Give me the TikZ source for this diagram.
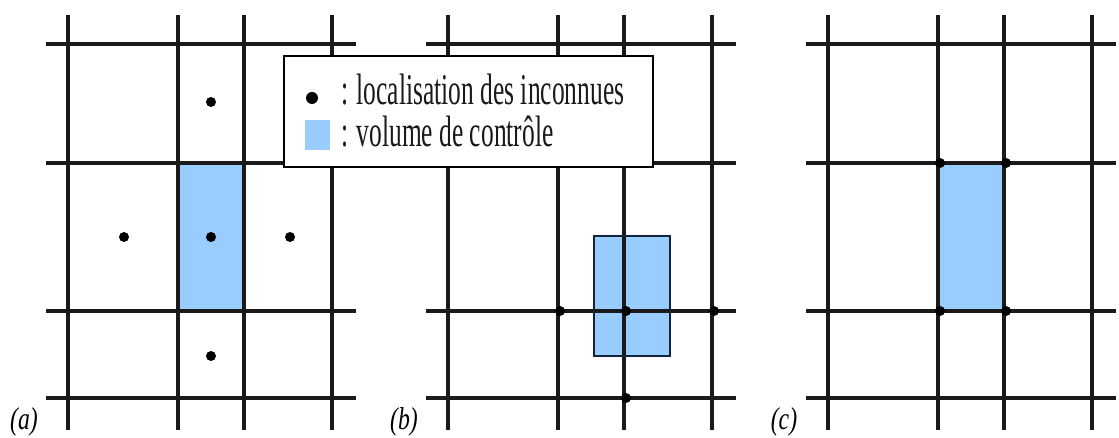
\documentclass[tikz,border=0pt]{standalone}
\usepackage{fontspec}
\setmainfont{Liberation Serif}
\usetikzlibrary{positioning}
\definecolor{CellBlue}{HTML}{99CCFF}
\definecolor{GridInk}{HTML}{1A1A1A}
\definecolor{EdgeInk}{HTML}{14233A}

\tikzset{
  gridline/.style={draw=GridInk, line width=2pt},
  cvfill/.style={fill=CellBlue},
  cvedge/.style={draw=EdgeInk, line width=1.5pt},
  unknown/.style={circle, fill=black, inner sep=0pt, minimum size=0.2cm},
  panellabel/.style={font=\itshape\fontsize{18}{18}\selectfont, xscale=0.75, transform shape, inner sep=0pt},
  legendbox/.style={draw=black, fill=white, line width=1.6pt},
  legendtext/.style={font=\fontsize{25}{25}\selectfont, xscale=0.58, transform shape, anchor=base west, inner sep=0pt, text=GridInk}
}

\begin{document}
\begin{tikzpicture}[x=0.02cm, y=-0.02cm]
  \useasboundingbox (0,0) rectangle (1119,438);

  % control volumes first, the grid is drawn over them
  \fill[cvfill] (178,163) rectangle (244,311);
  \fill[cvfill] (594,236) rectangle (670,356);
  \fill[cvfill] (940,163) rectangle (1006,311);

  % three identical meshes, 380px apart
  \foreach \p/\lab in {0/a, 1/b, 2/c}{
    \pgfmathsetmacro{\dx}{\p*380}
    \foreach \xx in {68,178,244,332}
      \draw[gridline] (\dx+\xx,15) -- (\dx+\xx,430);
    \foreach \yy in {44,163,311,398}
      \draw[gridline] (\dx+46,\yy) -- (\dx+356,\yy);
    \node[panellabel] (lab-\lab) at (\dx+24,422) {(\lab)};
  }

  \draw[cvedge] (594,236) rectangle (670,356);

  % (a) cell-centred unknowns
  \node[unknown] (a-n) at (211,102) {};
  \node[unknown] (a-w) at (124,237) {};
  \node[unknown] (a-p) at (211,237) {};
  \node[unknown] (a-e) at (290,237) {};
  \node[unknown] (a-s) at (211,356) {};

  % (b) vertex unknowns
  \node[unknown] (b-w) at (560,311) {};
  \node[unknown] (b-p) at (626,311) {};
  \node[unknown] (b-e) at (714,311) {};
  \node[unknown] (b-s) at (626,398) {};

  % (c) vertex unknowns on the cell corners
  \node[unknown] (c-nw) at (940,163) {};
  \node[unknown] (c-ne) at (1006,163) {};
  \node[unknown] (c-sw) at (940,311) {};
  \node[unknown] (c-se) at (1006,311) {};

  % legend
  \draw[legendbox] (284,56) rectangle (653,167);
  \node[unknown, minimum size=0.24cm] (legdot) at (312,98) {};
  \node[fill=CellBlue, inner sep=0pt, minimum width=0.5cm, minimum height=0.6cm] (legcv) at (317,135) {};
  \node[legendtext] (legtxt1) at (341,105) {: localisation des inconnues};
  \node[legendtext] (legtxt2) at (341,147) {: volume de contrôle};
\end{tikzpicture}
\end{document}
